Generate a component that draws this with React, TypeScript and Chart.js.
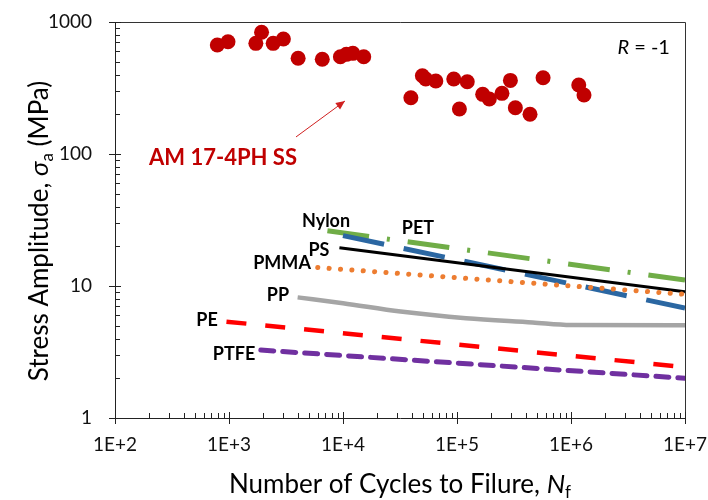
import { useEffect, useRef } from 'react';
import { Chart, registerables } from 'chart.js';

Chart.register(...registerables);

// ---- data ----
const amCycles = [790, 980, 1720, 1930, 2440, 3000, 4040, 6580, 9490, 10700, 12200, 15200, 39400, 49700, 53200, 65200, 93700, 105000, 123000, 168000, 192000, 248000, 294000, 325000, 437000, 569000, 1170000, 1300000];
const amStress = [670, 709, 689, 836, 689, 743, 531, 522, 546, 569, 579, 546, 267, 392, 370, 357, 370, 219, 353, 283, 261, 288, 361, 224, 200, 378, 333, 280];

const nylonN = [7300, 1e7];
const nylonS = [26.2, 11.1];
const petN = [1e4, 1e7];
const petS = [24.1, 6.8];
const psN = [9300, 1e7];
const psS = [19.5, 9.06];
const pmmaN = [6000, 1e7];
const pmmaS = [13.8, 8.65];
const ppN = [4000, 1e4, 3.2e4, 1.2e5, 4.6e5, 1e6, 1e7];
const ppS = [8.2, 7.4, 6.4, 5.7, 5.3, 5.07, 5.05];
const peN = [950, 1e7];
const peS = [5.37, 2.43];
const ptfeN = [1900, 1e7];
const ptfeS = [3.27, 2.0];

const xTickValues = [1e2, 1e3, 1e4, 1e5, 1e6, 1e7];
const xTickLabels = ['1E+2', '1E+3', '1E+4', '1E+5', '1E+6', '1E+7'];
const yTickValues = [1, 10, 100, 1000];
const yTickLabels = ['1', '10', '100', '1000'];

// text annotations anchored in data coordinates
const labelNames = ['Nylon', 'PET', 'PS', 'PMMA', 'PP', 'PE', 'PTFE'];
const labelN = [7100, 45500, 6150, 2920, 2690, 641, 1107];
const labelS = [31, 27.5, 18.7, 14.9, 8.55, 5.52, 3.05];

const FONT = 'Lato, "Open Sans", sans-serif';

const pts = (xs: number[], ys: number[]) => xs.map((x, i) => ({ x, y: ys[i] }));

const decorPlugin = {
  id: 'decor',
  afterDraw(chart: any) {
    const ctx = chart.ctx as CanvasRenderingContext2D;
    const xs = chart.scales.x;
    const ys = chart.scales.y;
    const { left, right, top, bottom } = chart.chartArea;
    ctx.save();
    // box
    ctx.strokeStyle = '#333';
    ctx.lineWidth = 1;
    ctx.beginPath();
    ctx.moveTo(left, top + 0.5);
    ctx.lineTo(right + 0.5, top + 0.5);
    ctx.lineTo(right + 0.5, bottom);
    ctx.stroke();
    // ticks
    ctx.strokeStyle = '#222';
    ctx.beginPath();
    for (const v of xTickValues) {
      const x = Math.round(xs.getPixelForValue(v)) + 0.5;
      ctx.moveTo(x, bottom - 6);
      ctx.lineTo(x, bottom + 6);
    }
    for (let d = 2; d < 7; d++) {
      for (let m = 2; m <= 9; m++) {
        const x = Math.round(xs.getPixelForValue(m * Math.pow(10, d))) + 0.5;
        ctx.moveTo(x, bottom);
        ctx.lineTo(x, bottom - 5);
      }
    }
    for (const v of yTickValues) {
      const y = Math.round(ys.getPixelForValue(v)) + 0.5;
      ctx.moveTo(left - 6, y);
      ctx.lineTo(left + 6, y);
    }
    for (let d = 0; d < 3; d++) {
      for (let m = 2; m <= 9; m++) {
        const y = Math.round(ys.getPixelForValue(m * Math.pow(10, d))) + 0.5;
        ctx.moveTo(left, y);
        ctx.lineTo(left + 5, y);
      }
    }
    ctx.stroke();

    // series labels
    ctx.fillStyle = '#000';
    ctx.textAlign = 'center';
    ctx.textBaseline = 'middle';
    ctx.font = `bold 18px ${FONT}`;
    labelNames.forEach((t, i) => {
      ctx.fillText(t, xs.getPixelForValue(labelN[i]), ys.getPixelForValue(labelS[i]));
    });

    // AM label and arrow
    ctx.fillStyle = '#C00000';
    ctx.font = `bold 22px ${FONT}`;
    ctx.fillText('AM 17-4PH SS', xs.getPixelForValue(886), ys.getPixelForValue(93));
    const ax1 = xs.getPixelForValue(3870), ay1 = ys.getPixelForValue(134.6);
    const ax2 = xs.getPixelForValue(10400), ay2 = ys.getPixelForValue(252);
    ctx.strokeStyle = '#D02020';
    ctx.lineWidth = 1;
    ctx.beginPath();
    ctx.moveTo(ax1, ay1);
    ctx.lineTo(ax2, ay2);
    ctx.stroke();
    const ang = Math.atan2(ay2 - ay1, ax2 - ax1);
    ctx.fillStyle = '#D02020';
    ctx.beginPath();
    ctx.moveTo(ax2, ay2);
    ctx.lineTo(ax2 - 9 * Math.cos(ang) + 4 * Math.sin(ang), ay2 - 9 * Math.sin(ang) - 4 * Math.cos(ang));
    ctx.lineTo(ax2 - 9 * Math.cos(ang) - 4 * Math.sin(ang), ay2 - 9 * Math.sin(ang) + 4 * Math.cos(ang));
    ctx.closePath();
    ctx.fill();

    // R = -1
    ctx.fillStyle = '#000';
    ctx.textAlign = 'left';
    const rx = xs.getPixelForValue(7.38e6);
    const ry = ys.getPixelForValue(635);
    ctx.font = `20px ${FONT}`;
    const w2 = ctx.measureText(' = -1').width;
    ctx.font = `italic 20px ${FONT}`;
    const w1 = ctx.measureText('R').width;
    ctx.fillText('R', rx - w1 - w2, ry);
    ctx.font = `20px ${FONT}`;
    ctx.fillText(' = -1', rx - w2, ry);

    // axis titles
    const drawParts = (parts: { t: string; f: string; dy: number }[], cx: number, cy: number) => {
      let total = 0;
      const ws = parts.map((p) => {
        ctx.font = p.f;
        const w = ctx.measureText(p.t).width;
        total += w;
        return w;
      });
      let x = cx - total / 2;
      parts.forEach((p, i) => {
        ctx.font = p.f;
        ctx.fillText(p.t, x, cy + p.dy);
        x += ws[i];
      });
    };
    ctx.fillStyle = '#000';
    ctx.textAlign = 'left';
    ctx.textBaseline = 'alphabetic';
    const main = `26px ${FONT}`;
    drawParts([
      { t: 'Number of Cycles to Filure, ', f: main, dy: 0 },
      { t: 'N', f: `italic 26px ${FONT}`, dy: 0 },
      { t: 'f', f: `17px ${FONT}`, dy: 5 },
    ], (left + right) / 2, 493);
    ctx.save();
    ctx.translate(48, 231);
    ctx.rotate(-Math.PI / 2);
    drawParts([
      { t: 'Stress Amplitude, ', f: main, dy: 0 },
      { t: 'σ', f: `italic 26px ${FONT}`, dy: 0 },
      { t: 'a', f: `17px ${FONT}`, dy: 5 },
      { t: ' (MPa)', f: main, dy: 0 },
    ], 0, 0);
    ctx.restore();
    ctx.restore();
  },
};

export default function App() {
  const ref = useRef<HTMLCanvasElement>(null);
  useEffect(() => {
    const lineDs = (label: string, xs: number[], ys: number[], color: string, width: number, dash: number[], cap: CanvasLineCap = 'butt', extra: any = {}) => ({
      label,
      data: pts(xs, ys),
      showLine: true,
      borderColor: color,
      backgroundColor: color,
      borderWidth: width,
      borderDash: dash,
      borderCapStyle: cap,
      pointRadius: 0,
      pointHoverRadius: 0,
      ...extra,
    });
    const chart = new Chart(ref.current!, {
      type: 'scatter',
      data: {
        datasets: [
          {
            label: 'AM 17-4PH SS',
            data: pts(amCycles, amStress),
            pointRadius: 7.5,
            pointBackgroundColor: '#C00000',
            pointBorderWidth: 0,
            borderColor: '#C00000',
            showLine: false,
          },
          lineDs('PTFE', ptfeN, ptfeS, '#7030A0', 5, [13, 9], 'round'),
          lineDs('PE', peN, peS, '#FF0000', 4.5, [20, 19]),
          lineDs('PP', ppN, ppS, '#A5A5A5', 4.5, [], 'butt', { cubicInterpolationMode: 'monotone' }),
          lineDs('PMMA', pmmaN, pmmaS, '#ED7D31', 5, [0.1, 11.3], 'round'),
          lineDs('PS', psN, psS, '#000000', 3, []),
          lineDs('PET', petN, petS, '#2B67A2', 5, [42, 20]),
          lineDs('Nylon', nylonN, nylonS, '#70AD47', 5, [42, 18, 3, 18]),
        ],
      },
      options: {
        animation: false,
        responsive: true,
        maintainAspectRatio: false,
        layout: { autoPadding: false, padding: { top: 22, right: 23, left: 0, bottom: 0 } },
        plugins: { legend: { display: false }, tooltip: { enabled: false } },
        scales: {
          x: {
            type: 'logarithmic',
            min: 100,
            max: 1e7,
            afterBuildTicks: (s: any) => {
              s.ticks = xTickValues.map((v) => ({ value: v }));
            },
            afterFit: (s: any) => {
              s.height = 82;
              s.paddingLeft = 0;
              s.paddingRight = 0;
            },
            grid: { display: false, drawTicks: false },
            border: { display: true, color: '#222', width: 1 },
            ticks: {
              autoSkip: false,
              maxRotation: 0,
              padding: 15,
              color: '#111',
              font: { family: FONT, size: 19 },
              callback: (_v: any, i: number) => xTickLabels[i],
            },
          },
          y: {
            type: 'logarithmic',
            min: 1,
            max: 1000,
            afterBuildTicks: (s: any) => {
              s.ticks = yTickValues.map((v) => ({ value: v }));
            },
            afterFit: (s: any) => {
              s.width = 115;
              s.paddingTop = 0;
              s.paddingBottom = 0;
            },
            grid: { display: false, drawTicks: false },
            border: { display: true, color: '#222', width: 1 },
            ticks: {
              autoSkip: false,
              padding: 23,
              color: '#111',
              font: { family: FONT, size: 19 },
              callback: (_v: any, i: number) => yTickLabels[i],
            },
          },
        },
      } as any,
      plugins: [decorPlugin],
    });
    return () => chart.destroy();
  }, []);
  return (
    <div style={{ position: 'absolute', left: 0, top: 0, width: 708, height: 500, background: '#fff' }}>
      <canvas ref={ref} />
    </div>
  );
}
